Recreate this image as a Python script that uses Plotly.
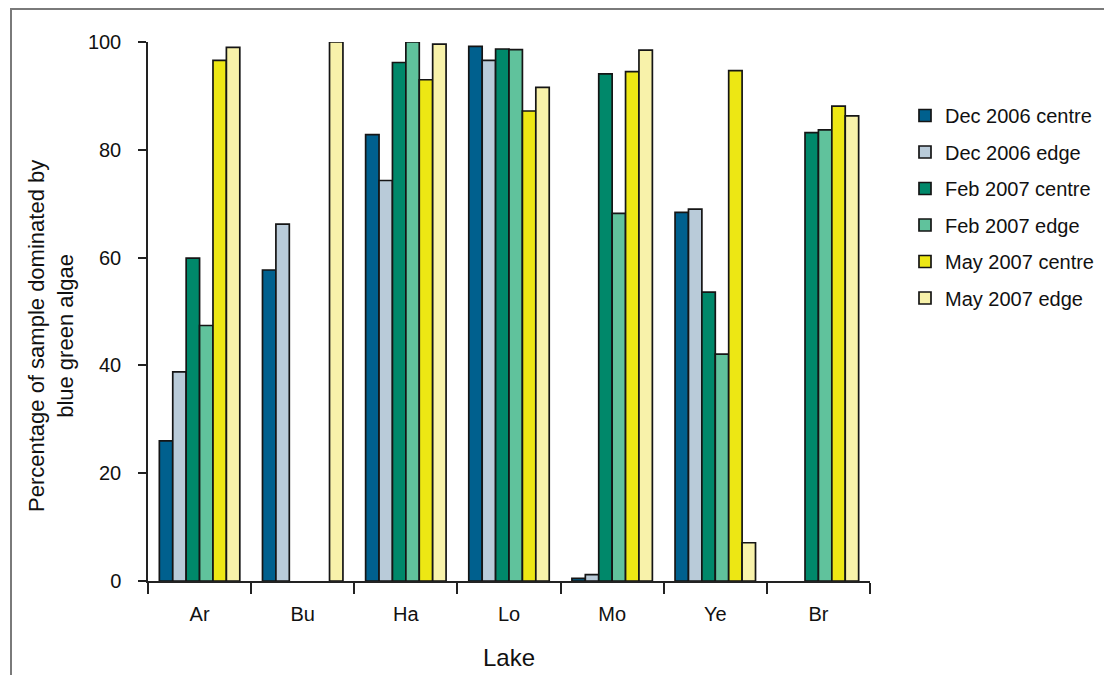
import plotly.graph_objects as go

lakes = ["Ar", "Bu", "Ha", "Lo", "Mo", "Ye", "Br"]
series_names = ["Dec 2006 centre", "Dec 2006 edge", "Feb 2007 centre",
                "Feb 2007 edge", "May 2007 centre", "May 2007 edge"]
dec06_centre = [26, 57.7, 82.8, 99.2, 0.5, 68.4, None]
dec06_edge = [38.8, 66.2, 74.3, 96.6, 1.2, 69.0, None]
feb07_centre = [59.9, None, 96.2, 98.7, 94.1, 53.6, 83.2]
feb07_edge = [47.4, None, 100, 98.6, 68.2, 42.1, 83.7]
may07_centre = [96.6, None, 93.0, 87.2, 94.5, 94.7, 88.1]
may07_edge = [99.0, 100, 99.6, 91.6, 98.5, 7.1, 86.3]
colors = ["#00608e", "#b9cbd9", "#00886a", "#60c29c", "#ede714", "#f8f2aa"]
y_title = "Percentage of sample dominated by<br>blue green algae"

all_values = [dec06_centre, dec06_edge, feb07_centre, feb07_edge, may07_centre, may07_edge]

FONT = "Arial, 'Liberation Sans', sans-serif"

fig = go.Figure()
for i, (name, vals, col) in enumerate(zip(series_names, all_values, colors)):
    fig.add_trace(go.Bar(
        x=lakes, y=vals, name=name, legendgroup=f"g{i}",
        marker=dict(color=col, line=dict(color="#151515", width=1.7)),
    ))

OFF = 8  # page offset of the figure
W, H = 1112 - OFF, 675 - OFF
L, R, T, B = 148 - OFF, 870 - OFF, 42 - OFF, 581 - OFF


def px_x(p):
    return (p - OFF - L) / (R - L)


def px_y(p):
    return (B - (p - OFF)) / (B - T)


fig.update_layout(
    width=W, height=H,
    margin=dict(l=L, r=W - R, t=T, b=H - B, pad=0),
    paper_bgcolor="white", plot_bgcolor="white",
    barmode="group", bargap=0.22, bargroupgap=0,
    font=dict(family=FONT, size=20, color="#111111"),
    showlegend=True,
    legend=dict(
        x=px_x(905), y=px_y(96), xanchor="left", yanchor="top",
        font=dict(size=20, family=FONT, color="#111111"),
        tracegroupgap=7.5, traceorder="grouped",
        entrywidth=150, entrywidthmode="pixels",
        bgcolor="rgba(0,0,0,0)",
    ),
    xaxis=dict(
        type="category", showline=True, linecolor="#222222", linewidth=1.5,
        ticks="outside", tickson="boundaries", ticklen=11, tickwidth=1.5,
        tickcolor="#222222", showgrid=False, zeroline=False,
        tickfont=dict(size=20, family=FONT), ticklabelstandoff=14,
        title=dict(text="Lake", font=dict(size=24, family=FONT), standoff=25),
        automargin=False,
    ),
    yaxis=dict(
        range=[0, 100], showline=True, linecolor="#222222", linewidth=1.5,
        ticks="outside", ticklen=8, tickwidth=1.5, tickcolor="#222222",
        tickvals=[0, 20, 40, 60, 80, 100], showgrid=False, zeroline=False,
        tickfont=dict(size=20, family=FONT), ticklabelstandoff=13,
        automargin=False,
    ),
)

fig.add_annotation(
    text=y_title, textangle=-90, showarrow=False,
    xref="paper", yref="paper", x=px_x(51), y=px_y(336),
    xanchor="center", yanchor="middle",
    font=dict(size=22, family=FONT, color="#111111"),
)

fig.add_shape(
    type="rect", xref="paper", yref="paper",
    x0=px_x(11), x1=px_x(1140), y0=px_y(700), y1=px_y(9),
    line=dict(color="#7a7a7a", width=2), fillcolor="rgba(0,0,0,0)", layer="below",
)

fig.write_html("out.html")
